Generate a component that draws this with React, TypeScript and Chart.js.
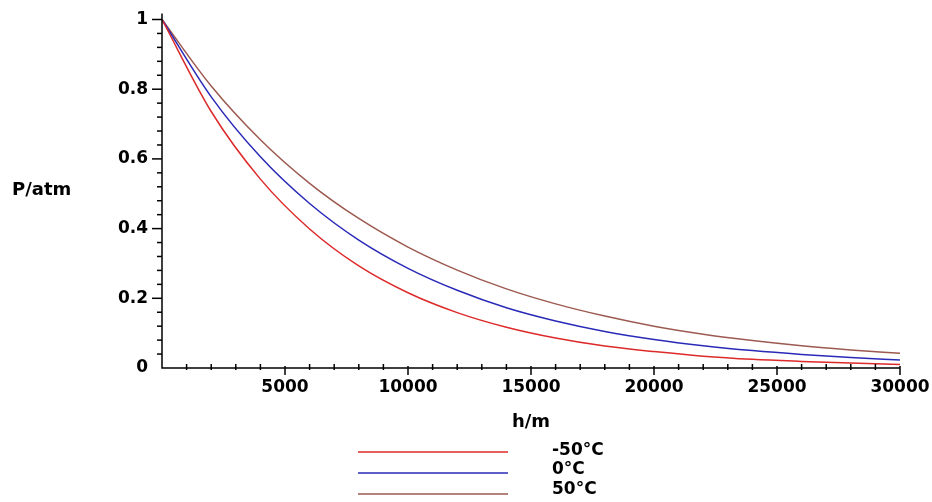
import React, { useEffect, useRef } from "react";
import { Chart, registerables } from "chart.js";

Chart.register(...registerables);

// Altitude h (m)
const H_VALUES = [0, 2000, 4000, 6000, 8000, 10000, 12000, 14000, 16000, 18000, 20000, 22000, 24000, 26000, 28000, 30000];
// Pressure P (atm)
const P_MINUS50 = [1.0, 0.736, 0.542, 0.399, 0.293, 0.216, 0.159, 0.117, 0.086, 0.063, 0.047, 0.034, 0.025, 0.019, 0.014, 0.010];
const P_ZERO = [1.0, 0.778, 0.606, 0.472, 0.367, 0.286, 0.223, 0.173, 0.135, 0.105, 0.082, 0.064, 0.050, 0.039, 0.030, 0.023];
const P_PLUS50 = [1.0, 0.809, 0.655, 0.530, 0.429, 0.347, 0.281, 0.227, 0.184, 0.149, 0.120, 0.097, 0.079, 0.064, 0.052, 0.042];

const SERIES_LABELS = ["-50°C", "0°C", "50°C"];
const SERIES_COLORS = ["#dd2a2a", "#2a2ab8", "#9c5a50"];

const X_TICKS = [5000, 10000, 15000, 20000, 25000, 30000];
const Y_TICKS = [0, 0.2, 0.4, 0.6, 0.8, 1];
const X_MINOR_STEP = 1000;
const Y_MINOR_STEP = 0.04;

const X_TITLE = "h/m";
const Y_TITLE = "P/atm";

const FONT = "'DejaVu Sans', sans-serif";

const decorPlugin = {
  id: "decor",
  afterDraw(chart: any) {
    const ctx = chart.ctx;
    const xs = chart.scales.x;
    const ys = chart.scales.y;
    const x0 = xs.getPixelForValue(0);
    const x1 = xs.getPixelForValue(30000);
    const y0 = ys.getPixelForValue(0);
    const y1 = ys.getPixelForValue(1);
    ctx.save();
    ctx.strokeStyle = "#000";
    ctx.lineWidth = 1.5;
    ctx.beginPath();
    ctx.moveTo(x0, y1 - 6);
    ctx.lineTo(x0, y0);
    ctx.lineTo(x1, y0);
    ctx.stroke();
    ctx.lineWidth = 1.5;
    // x ticks
    for (let v = X_MINOR_STEP; v <= 30000 + 1; v += X_MINOR_STEP) {
      const px = xs.getPixelForValue(v);
      const major = Math.round(v) % 5000 === 0;
      ctx.beginPath();
      if (major) {
        ctx.moveTo(px, y0 - 2);
        ctx.lineTo(px, y0 + 7);
      } else {
        ctx.moveTo(px, y0 - 4);
        ctx.lineTo(px, y0 + 2);
      }
      ctx.stroke();
    }
    // y ticks
    for (let i = 1; i <= 25; i++) {
      const v = i * Y_MINOR_STEP;
      const py = ys.getPixelForValue(v);
      const major = i % 5 === 0;
      ctx.beginPath();
      ctx.moveTo(x0 - (major ? 10 : 5), py);
      ctx.lineTo(x0, py);
      ctx.stroke();
    }
    // Titles
    ctx.fillStyle = "#000";
    ctx.font = `bold 18px ${FONT}`;
    ctx.textBaseline = "middle";
    ctx.textAlign = "left";
    ctx.fillText(Y_TITLE, 12, 190);
    ctx.textAlign = "center";
    ctx.fillText(X_TITLE, (x0 + x1) / 2, 422);
    // Legend
    const lineY = [452, 473, 494];
    const textY = [451, 470, 490];
    ctx.font = `bold 17px ${FONT}`;
    ctx.textAlign = "left";
    for (let i = 0; i < SERIES_LABELS.length; i++) {
      ctx.strokeStyle = SERIES_COLORS[i];
      ctx.lineWidth = 1.5;
      ctx.beginPath();
      ctx.moveTo(358, lineY[i]);
      ctx.lineTo(508, lineY[i]);
      ctx.stroke();
      ctx.fillStyle = "#000";
      ctx.fillText(SERIES_LABELS[i], 552, textY[i]);
    }
    ctx.restore();
  },
};

export default function App() {
  const ref = useRef<HTMLCanvasElement | null>(null);
  useEffect(() => {
    document.body.style.margin = "0";
    const canvas = ref.current;
    if (!canvas) return;
    const allSeries = [P_MINUS50, P_ZERO, P_PLUS50];
    const chart = new Chart(canvas, {
      type: "line",
      data: {
        datasets: allSeries.map((vals, i) => ({
          label: SERIES_LABELS[i],
          data: H_VALUES.map((h, j) => ({ x: h, y: vals[j] })),
          borderColor: SERIES_COLORS[i],
          borderWidth: 1.5,
          pointRadius: 0,
          fill: false,
          cubicInterpolationMode: "monotone" as const,
        })),
      },
      options: {
        responsive: false,
        animation: false,
        events: [],
        layout: { padding: { left: 0, top: 19.5, right: 32, bottom: 0 } },
        plugins: {
          legend: { display: false },
          tooltip: { enabled: false },
          title: { display: false },
        },
        scales: {
          x: {
            type: "linear",
            min: 0,
            max: 30000,
            grid: { display: false, drawTicks: false, tickLength: 0 },
            border: { display: false },
            afterBuildTicks: (scale: any) => {
              scale.ticks = X_TICKS.map((v) => ({ value: v }));
            },
            afterFit: (scale: any) => {
              scale.height = 134;
              scale.paddingLeft = 0;
              scale.paddingRight = 0;
            },
            ticks: {
              padding: 9,
              maxRotation: 0,
              autoSkip: false,
              color: "#000",
              font: { family: FONT, size: 17, weight: "bold" },
              callback: (v: any) => String(v),
            },
          },
          y: {
            type: "linear",
            min: 0,
            max: 1,
            grid: { display: false, drawTicks: false, tickLength: 0 },
            border: { display: false },
            afterBuildTicks: (scale: any) => {
              scale.ticks = Y_TICKS.map((v) => ({ value: v }));
            },
            afterFit: (scale: any) => {
              scale.width = 162;
              scale.paddingTop = 0;
              scale.paddingBottom = 0;
            },
            ticks: {
              padding: 14,
              autoSkip: false,
              color: "#000",
              font: { family: FONT, size: 17, weight: "bold" },
              callback: (v: any) => String(Math.round(Number(v) * 10) / 10),
            },
          },
        },
      },
      plugins: [decorPlugin],
    });
    return () => chart.destroy();
  }, []);
  return (
    <div style={{ width: 932, height: 502 }}>
      <canvas ref={ref} width={932} height={502} style={{ width: 932, height: 502, display: "block" }} />
    </div>
  );
}
